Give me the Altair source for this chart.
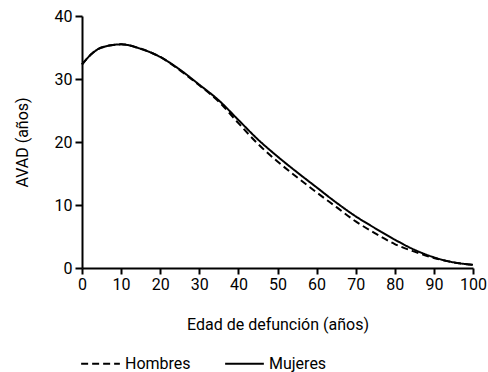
import altair as alt
import pandas as pd

edad = [0, 2.5, 5, 10, 15, 20, 25, 30, 35, 40, 45, 50, 55, 60, 65, 70, 75, 80, 85, 90, 95, 100]
mujeres = [32.3, 34.0, 35.0, 35.5, 34.8, 33.5, 31.5, 29.1, 26.6, 23.5, 20.4, 17.7, 15.2, 12.8, 10.4, 8.2, 6.3, 4.5, 2.9, 1.7, 0.9, 0.5]
hombres = [32.3, 34.0, 35.0, 35.5, 34.8, 33.5, 31.4, 29.0, 26.4, 23.0, 19.7, 16.9, 14.4, 12.0, 9.7, 7.4, 5.5, 3.8, 2.6, 1.6, 0.9, 0.5]
series = ["Hombres", "Mujeres"]

rows = []
for s, vals in zip(series, [hombres, mujeres]):
    for e, v in zip(edad, vals):
        rows.append({"edad": e, "avad": v, "sexo": s})
df = pd.DataFrame(rows)

FONT = "Roboto"

chart = alt.Chart(df).mark_line(color="black", strokeWidth=2, interpolate="monotone").encode(
    x=alt.X("edad:Q", scale=alt.Scale(domain=[0, 100], nice=False),
            axis=alt.Axis(values=list(range(0, 101, 10)), title="Edad de defunción (años)",
                          grid=False, domainColor="black", domainWidth=2, tickColor="black",
                          tickWidth=2, tickSize=6, labelFontSize=16, titleFontSize=16,
                          labelColor="black", titleColor="black", titleFontWeight="normal",
                          labelFont=FONT, titleFont=FONT, labelPadding=2, titlePadding=24,
                          labelFlush=False, labelOverlap=False)),
    y=alt.Y("avad:Q", scale=alt.Scale(domain=[0, 40], nice=False),
            axis=alt.Axis(values=[0, 10, 20, 30, 40], title="AVAD (años)",
                          grid=False, domainColor="black", domainWidth=2, tickColor="black",
                          tickWidth=2, tickSize=7, labelFontSize=16, titleFontSize=16,
                          labelColor="black", titleColor="black", titleFontWeight="normal",
                          labelFont=FONT, titleFont=FONT, labelPadding=3, titlePadding=24,
                          labelFlush=False)),
    strokeDash=alt.StrokeDash("sexo:N", sort=series,
                              scale=alt.Scale(domain=series, range=[[7, 4], [1, 0]]),
                              legend=alt.Legend(title=None, orient="none", legendX=-2, legendY=327,
                                                direction="horizontal", symbolType="stroke",
                                                symbolStrokeColor="black", symbolStrokeWidth=2,
                                                symbolSize=1500, labelFontSize=16, labelFont=FONT,
                                                labelColor="black", columnPadding=30, labelOffset=4)),
).properties(
    width=391, height=252,
    autosize=alt.AutoSizeParams(type="none"),
    padding={"left": 82, "top": 16, "right": 15, "bottom": 104},
).configure_view(stroke=None)

chart.save("out.html", embed_options={"renderer": "svg", "actions": False})
